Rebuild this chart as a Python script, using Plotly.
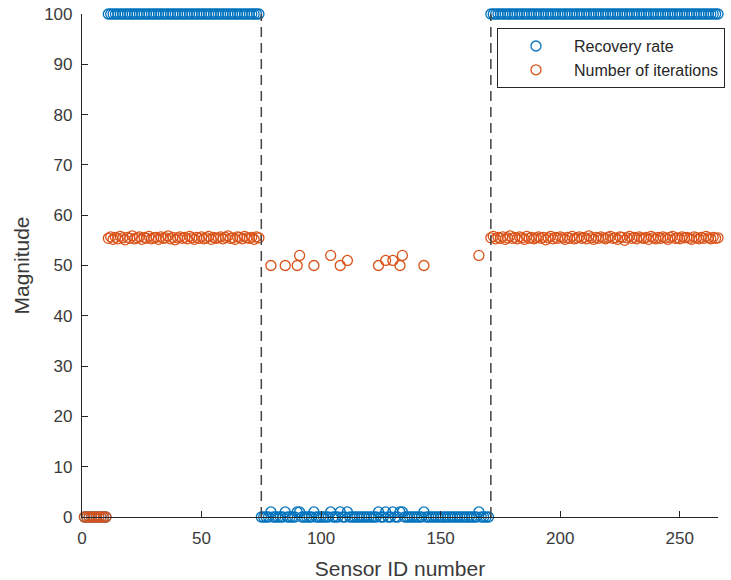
import plotly.graph_objects as go

# Sensor IDs 1..266
sensor_id = list(range(1, 267))

# Recovery rate (%) per sensor
rate_first = [0, 0, 0, 0, 0, 0, 0, 0, 0, 0]  # sensors 1-10
rate_left = [  # sensors 11-74
    100, 100, 100, 100, 100, 100, 100, 100, 100, 100,
    100, 100, 100, 100, 100, 100, 100, 100, 100, 100,
    100, 100, 100, 100, 100, 100, 100, 100, 100, 100,
    100, 100, 100, 100, 100, 100, 100, 100, 100, 100,
    100, 100, 100, 100, 100, 100, 100, 100, 100, 100,
    100, 100, 100, 100, 100, 100, 100, 100, 100, 100,
    100, 100, 100, 100,
]
rate_mid = [  # sensors 75-170
    0, 0, 0, 0, 1, 0, 0, 0, 0, 0,
    1, 0, 0, 0, 0, 1, 1, 0, 0, 0,
    0, 0, 1, 0, 0, 0, 0, 0, 0, 1,
    0, 0, 0, 1, 0, 0, 1, 0, 0, 0,
    0, 0, 0, 0, 0, 0, 0, 0, 0, 1,
    0, 0, 1, 0, 0, 1, 0, 0, 1, 1,
    0, 0, 0, 0, 0, 0, 0, 0, 1, 0,
    0, 0, 0, 0, 0, 0, 0, 0, 0, 0,
    0, 0, 0, 0, 0, 0, 0, 0, 0, 0,
    0, 1, 0, 0, 0, 0,
]
rate_right = [  # sensors 171-266
    100, 100, 100, 100, 100, 100, 100, 100, 100, 100,
    100, 100, 100, 100, 100, 100, 100, 100, 100, 100,
    100, 100, 100, 100, 100, 100, 100, 100, 100, 100,
    100, 100, 100, 100, 100, 100, 100, 100, 100, 100,
    100, 100, 100, 100, 100, 100, 100, 100, 100, 100,
    100, 100, 100, 100, 100, 100, 100, 100, 100, 100,
    100, 100, 100, 100, 100, 100, 100, 100, 100, 100,
    100, 100, 100, 100, 100, 100, 100, 100, 100, 100,
    100, 100, 100, 100, 100, 100, 100, 100, 100, 100,
    100, 100, 100, 100, 100, 100,
]

# Number of iterations per sensor (None = not shown)
N = None
iter_first = [0, 0, 0, 0, 0, 0, 0, 0, 0, 0]
iter_left = [
    55.4, 55.7, 55.2, 55.6, 55.3, 55.8, 55.5, 55.1, 55.6, 55.4,
    55.9, 55.3, 55.5, 55.7, 55.2, 55.6, 55.4, 55.8, 55.3, 55.5,
    55.6, 55.2, 55.7, 55.4, 55.5, 55.9, 55.3, 55.6, 55.1, 55.5,
    55.7, 55.4, 55.6, 55.3, 55.8, 55.5, 55.2, 55.6, 55.4, 55.7,
    55.3, 55.5, 55.8, 55.2, 55.6, 55.4, 55.5, 55.7, 55.3, 55.6,
    55.9, 55.4, 55.5, 55.2, 55.7, 55.6, 55.3, 55.8, 55.5, 55.4,
    55.6, 55.2, 55.7, 55.5,
]
iter_mid = [
    N, N, N, N, 50, N, N, N, N, N,
    50, N, N, N, N, 50, 52, N, N, N,
    N, N, 50, N, N, N, N, N, N, 52,
    N, N, N, 50, N, N, 51, N, N, N,
    N, N, N, N, N, N, N, N, N, 50,
    N, N, 51, N, N, 51, N, N, 50, 52,
    N, N, N, N, N, N, N, N, 50, N,
    N, N, N, N, N, N, N, N, N, N,
    N, N, N, N, N, N, N, N, N, N,
    N, 52, N, N, N, N,
]
iter_right = [
    55.5, 55.8, 55.3, 55.6, 55.4, 55.7, 55.2, 55.5, 55.9, 55.4,
    55.6, 55.3, 55.7, 55.5, 55.2, 55.8, 55.4, 55.6, 55.3, 55.5,
    55.7, 55.4, 55.6, 55.1, 55.5, 55.8, 55.3, 55.6, 55.4, 55.7,
    55.5, 55.2, 55.6, 55.4, 55.8, 55.3, 55.5, 55.7, 55.4, 55.6,
    55.3, 55.9, 55.5, 55.2, 55.6, 55.4, 55.7, 55.5, 55.3, 55.6,
    55.8, 55.4, 55.5, 55.2, 55.7, 55.6, 55.0, 55.5, 55.8, 55.4,
    55.6, 55.3, 55.7, 55.5, 55.4, 55.6, 55.2, 55.8, 55.5, 55.3,
    55.6, 55.4, 55.7, 55.5, 55.2, 55.6, 55.8, 55.4, 55.5, 55.3,
    55.7, 55.5, 55.6, 55.4, 55.2, 55.7, 55.5, 55.3, 55.6, 55.4,
    55.8, 55.5, 55.3, 55.6, 55.4, 55.5,
]

# Region boundaries (dashed lines)
boundaries = [75, 171]
boundary_y = [0, 100]

recovery_rate = rate_first + rate_left + rate_mid + rate_right
iterations = iter_first + iter_left + iter_mid + iter_right

BLUE = "#0072BD"
ORANGE = "#D95319"
AX = "#262626"
TXT = "#3a3a3a"
FONT = "Liberation Sans, Arial, Helvetica, sans-serif"

fig = go.Figure()
fig.add_trace(go.Scatter(
    x=sensor_id, y=recovery_rate, mode="markers", name="Recovery rate",
    marker=dict(symbol="circle-open", size=10, color=BLUE, line=dict(width=1.3, color=BLUE)),
    cliponaxis=False,
))
fig.add_trace(go.Scatter(
    x=sensor_id, y=iterations, mode="markers", name="Number of iterations",
    marker=dict(symbol="circle-open", size=10, color=ORANGE, line=dict(width=1.3, color=ORANGE)),
    cliponaxis=False,
))

for b in boundaries:
    fig.add_shape(type="line", xref="x", yref="y", x0=b, x1=b,
                  y0=boundary_y[0], y1=boundary_y[1],
                  line=dict(color="#444444", width=1.5, dash="10px,6px"), layer="above")

fig.update_layout(
    width=731, height=580,
    margin=dict(l=82, r=13, t=14, b=63, autoexpand=False),
    paper_bgcolor="white", plot_bgcolor="white",
    font=dict(family=FONT, size=17, color=TXT),
    showlegend=True,
    legend=dict(
        x=0.6525, y=0.972, xanchor="left", yanchor="top",
        bgcolor="white", bordercolor=AX, borderwidth=1,
        font=dict(size=16, color=AX), itemwidth=66, tracegroupgap=0,
    ),
)
fig.update_xaxes(
    range=[0, 266], tickvals=[0, 50, 100, 150, 200, 250],
    showline=True, linecolor=AX, linewidth=1.2, mirror=False,
    ticks="inside", ticklen=6, tickcolor=AX, tickwidth=1,
    showgrid=False, zeroline=False, ticklabelstandoff=5,
    tickfont=dict(size=17, color=TXT),
    title=dict(text="Sensor ID number", font=dict(size=21, color=TXT), standoff=14),
)
fig.update_yaxes(
    range=[0, 100], tickvals=[0, 10, 20, 30, 40, 50, 60, 70, 80, 90, 100],
    showline=True, linecolor=AX, linewidth=1.2, mirror=False,
    ticks="inside", ticklen=6, tickcolor=AX, tickwidth=1,
    showgrid=False, zeroline=False, ticklabelstandoff=5,
    tickfont=dict(size=17, color=TXT),
    title=dict(text="Magnitude", font=dict(size=21, color=TXT), standoff=8),
)

fig.write_html("out.html")
